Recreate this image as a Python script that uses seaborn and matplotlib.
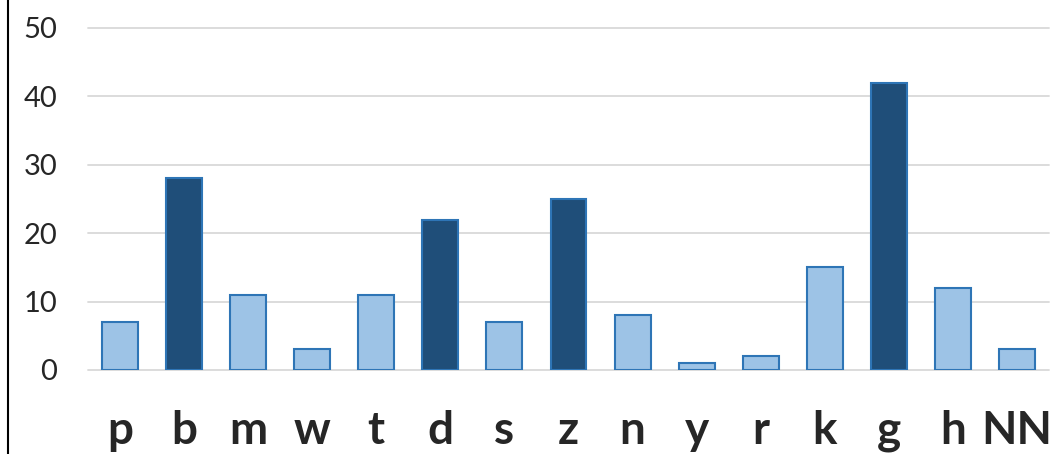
import matplotlib
matplotlib.use("Agg")
import matplotlib.pyplot as plt
from matplotlib.lines import Line2D
import seaborn as sns
import pandas as pd

categories = ["p", "b", "m", "w", "t", "d", "s", "z", "n", "y", "r", "k", "g", "h", "NN"]
counts = [7, 28, 11, 3, 11, 22, 7, 25, 8, 1, 2, 15, 42, 12, 3]
highlighted = ["b", "d", "z", "g"]
y_ticks = [0, 10, 20, 30, 40, 50]

light = "#9DC3E6"
dark = "#1F4E79"
edge = "#2E75B6"
grid = "#D9D9D9"

sns.set_theme(style="white")
plt.rcParams["font.family"] = ["Lato", "DejaVu Sans"]

df = pd.DataFrame({"cat": categories, "count": counts})
palette = {c: (dark if c in highlighted else light) for c in categories}

W, H = 1051, 454
fig = plt.figure(figsize=(W / 100, H / 100), dpi=100)
ax = fig.add_axes([88 / W, (H - 370) / H, (1049 - 88) / W, (370 - 28) / H])

sns.barplot(data=df, x="cat", y="count", hue="cat", palette=palette,
            legend=False, width=0.56, edgecolor=edge, linewidth=1.5,
            saturation=1, ax=ax, zorder=3)

ax.set_ylim(0, 50)
ax.set_xlim(-0.5, len(categories) - 0.5)
ax.set_yticks(y_ticks)
ax.set_yticklabels([str(t) for t in y_ticks], fontsize=21)
for t in y_ticks:
    ax.axhline(t, color=grid, lw=1.3, zorder=1, clip_on=False)
ax.set_xlabel("")
ax.set_ylabel("")
for s in ax.spines.values():
    s.set_visible(False)
ax.tick_params(axis="y", length=0, pad=22)
ax.tick_params(axis="x", length=0, pad=29)
for lbl in ax.get_xticklabels():
    lbl.set_fontsize(33)
    lbl.set_fontweight("bold")

fig.add_artist(Line2D([8 / W, 8 / W], [0, 1], color="black", lw=1.5))

fig.savefig("out.png", dpi=100)
